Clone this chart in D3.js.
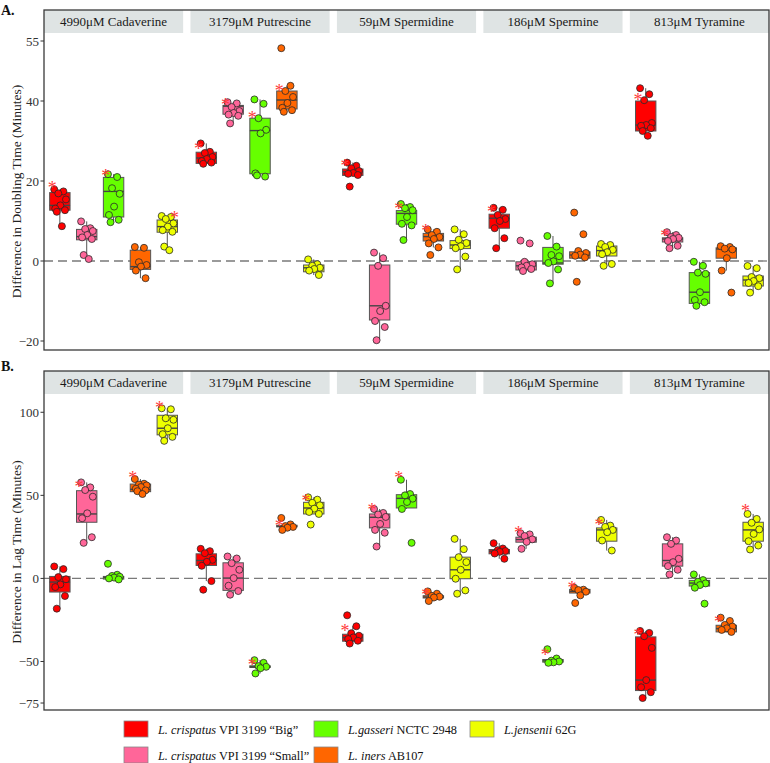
<!DOCTYPE html>
<html><head><meta charset="utf-8">
<script src="https://cdn.jsdelivr.net/npm/d3@7"></script>
<style>body{margin:0;background:#fff} svg{display:block}</style>
</head><body><svg id="c" width="770" height="763"></svg>
<script>
// ---------- categories ----------
const amines = ["4990μM Cadaverine","3179μM Putrescine","59μM Spermidine","186μM Spermine","813μM Tyramine"];
const strains = ["big","small","gasseri","iners","jensenii"];
const strainColors = ["#ff0000","#ff6699","#66ff00","#ff6600","#eeff00"];
const legendItal = ["L. crispatus","L. crispatus","L.gasseri","L. iners","L.jensenii"];
const legendRest = [" VPI 3199 “Big”"," VPI 3199 “Small”"," NCTC 2948"," AB107"," 62G"];
const dtTicks = [-20,0,20,40,55];
const lagTicks = [-75,-50,0,50,100];

// ---------- A: doubling time  (box = [lo, q1, median, q3, hi]) ----------
const dtBigBox   = [[8.7,12.7,13.9,17.1,17.9],[24.3,24.4,25.75,27.2,29.4],[21.3,21.4,22.3,23.0,24.6],[3.2,8.2,10.7,11.7,13.3],[31.3,32.5,34.0,40.0,43.2]];
const dtSmallBox = [[0.5,5.3,6.1,7.9,9.9],[34.4,36.7,38.7,38.9,39.7],[-19.8,-14.75,-11.2,-1.0,2.1],[-2.5,-2.25,-1.2,-0.2,0.3],[3.2,4.75,5.5,5.8,7.2]];
const dtGasBox   = [[9.7,11.0,17.4,20.9,21.7],[21.1,21.8,32.6,35.7,40.4],[5.25,9.2,11.9,12.6,14.25],[-5.6,-0.8,-0.5,3.4,6.25],[-11.2,-10.6,-7.8,-2.9,-0.2]];
const dtInersBox = [[-4.3,-2.1,-1.4,2.7,3.5],[37.3,38.0,40.25,42.5,43.8],[3.4,5.0,6.1,6.9,7.9],[0.7,0.7,1.5,2.3,2.5],[-2.4,0.7,3.0,3.3,3.7]];
const dtJenBox   = [[2.7,7.2,8.6,10.25,11.25],[-3.5,-2.7,-1.7,-1.0,0.4],[-2.1,3.1,4.0,5.1,7.9],[-1.2,1.25,2.6,3.75,4.25],[-7.9,-6.25,-4.75,-3.75,-1.25]];

const dtBigPts   = [[17.9,17.4,16.9,15.4,13.9,13.1,12.7,12.3,8.7],[29.4,27.3,27.0,26.0,25.5,25.0,24.6,24.3],[24.6,23.8,23.2,22.5,22.0,21.8,21.5,18.6],[13.3,12.8,11.5,10.5,10.0,8.2,5.7,3.2],[43.2,41.7,40.2,34.5,34.0,33.8,33.2,32.5,31.3]];
const dtSmallPts = [[9.9,8.2,8.0,7.5,6.5,5.9,5.5,1.5,0.5],[39.7,39.4,38.5,37.5,37.0,36.6,36.3,34.4],[2.1,0.7,-1.2,-11.2,-12.5,-15.0,-16.5,-19.8],[5.1,4.4,-0.2,-0.8,-1.2,-1.6,-2.0,-2.5],[7.2,6.5,6.0,5.8,5.5,5.0,3.8,3.2]];
const dtGasPts   = [[21.7,21.0,18.2,16.8,13.6,11.5,10.3,9.7],[40.4,39.3,35.7,32.8,31.9,21.9,21.1,21.4],[14.25,13.5,13.2,12.7,11.0,9.3,8.9,5.25],[6.25,3.6,1.5,1.2,-0.1,-0.5,-2.1,-5.6],[-0.2,-1.2,-2.9,-3.2,-7.8,-9.75,-10.3,-11.2]];
const dtInersPts = [[3.5,3.3,-0.3,-1.0,-1.4,-2.4,-4.3],[53.2,43.8,42.5,41.0,39.5,38.3,37.7,37.3],[7.9,7.3,6.5,6.0,5.5,4.4,3.4,1.5],[12.1,6.7,2.5,2.0,1.6,1.3,0.9,-5.2],[3.7,3.5,3.1,2.9,0.7,-2.4,-7.9]];
const dtJenPts   = [[11.25,11.0,10.5,9.4,8.6,7.7,7.3,3.6,2.7],[0.4,-0.8,-1.2,-1.7,-2.0,-2.4,-3.5],[7.9,6.7,5.3,4.5,3.7,3.2,1.1,-2.1],[4.25,4.0,3.5,2.8,2.2,1.7,-0.75,-1.2],[-1.25,-1.8,-4.0,-4.3,-5.0,-5.5,-6.3,-7.9]];

// significance star value (null = none); rows = strains, cols = amines
const dtStars = [[19,28.6,24.4,12.9,41],[null,39.75,null,null,6.9],[21.9,36.5,13.6,null,null],[null,43.25,8.2,null,null],[11.5,null,null,null,null]];
const dtStarRight = [[0,0,0,0,0],[0,0,0,0,0],[0,0,0,0,0],[0,0,0,0,0],[1,0,0,0,0]];

// ---------- B: lag time ----------
const lagBigBox   = [[-18.2,-8.2,-2.2,1.2,7.2],[-1.6,7.8,10.8,14.8,17.8],[-39.2,-37.8,-35.6,-33.6,-28.8],[11.8,14.8,16.4,17.4,21.2],[-72,-67.5,-61.2,-35.2,-31.6]];
const lagSmallBox = [[21.4,33.8,38.8,52.8,57.8],[-9.8,-7.2,0.2,9.4,13.2],[19.2,30.4,36.8,38.8,41.8],[17.8,21.8,23.4,24.8,27.2],[2.4,7.4,10.8,20.8,24.8]];
const lagGasBox   = [[-0.6,-0.4,0.6,1.2,2.2],[-57.2,-53.6,-53.2,-52.6,-49.2],[41.8,42.4,48.2,50.4,59.4],[-50.8,-50.4,-49.6,-48.8,-48.2],[-5.6,-4.6,-2.8,-1.2,2.4]];
const lagInersBox = [[50.8,52.2,53.6,56.8,59.8],[29.2,31.0,31.4,32.0,32.5],[-13.6,-11.8,-11.2,-10.4,-9.2],[-10.2,-8.8,-7.8,-6.6,-5.6],[-32.2,-32.2,-30.2,-28.2,-25.6]];
const lagJenBox   = [[82.8,86.4,90.4,98.2,102.4],[38.8,38.8,42.4,45.8,48.8],[-9.2,-0.2,5.2,12.8,23.8],[16.8,22.4,29.2,30.4,35.2],[17.4,22.4,29.2,33.8,38.8]];

const lagBigPts   = [[7.2,5.6,0.8,-0.5,-3.6,-5.2,-10.6,-18.2],[17.8,16.4,15.2,11.2,10.0,7.6,-1.6,-6.8],[-22.2,-28.8,-33.0,-34.5,-35.5,-36.5,-37.5,-39.2],[21.2,18.0,17.0,16.5,16.0,15.0,11.8],[-31.6,-32.8,-34.8,-41.8,-61.2,-65.5,-68.5,-72]];
const lagSmallPts = [[57.8,54.8,53.2,49.2,39.2,36.2,24.8,21.4],[13.2,12.0,9.2,5.2,0.2,-4.4,-7.6,-9.8],[41.8,39.4,38.5,37.0,32.8,29.2,27.5,19.2],[27.2,26.5,25.5,23.5,22.0,17.8],[24.8,22.8,20.8,11.8,9.8,7.4,5.2,2.4]];
const lagGasPts   = [[8.8,2.2,1.5,1.0,0.5,0.0,-0.6],[-49.2,-50.8,-52.8,-53.2,-54.0,-57.2],[59.4,50.8,50.0,48.0,46.0,41.8,21.4],[-42.6,-48.2,-49.5,-50.0,-50.5,-50.8],[2.4,-1.0,-2.0,-3.0,-4.0,-5.6,-15.2]];
const lagInersPts = [[59.8,57.0,56.5,56.0,55.0,54.0,53.0,52.5,50.8],[36.4,32.5,31.5,31.0,30.5,29.2],[-7.8,-9.2,-10.5,-11.0,-11.5,-13.6],[-5.6,-6.8,-7.0,-8.0,-10.2,-14.8],[-23.6,-25.6,-28.0,-29.0,-30.0,-31.0,-32.2]];
const lagJenPts   = [[102.4,101.8,96.4,95.5,90.4,86.8,85.2,82.8],[48.8,47.4,45.5,44.0,42.0,40.0,38.8,32.4],[23.8,17.6,12.8,9.8,5.2,-0.2,-7.2,-9.2],[35.2,31.8,31.0,29.2,27.8,22.8,16.8],[38.8,35.8,33.5,29.5,26.8,22.4,19.8,17.4]];

const lagStars = [[null,null,-30.2,null,-32.8],[56.4,null,42.8,28.8,null],[null,-50.8,61.8,-44.8,null],[61.8,33.2,-8.2,-4.2,-24.8],[103.8,48,null,33.8,41.8]];
const lagStarRight = [[0,0,0,0,0],[0,0,0,0,0],[0,0,0,0,0],[0,0,0,0,0],[0,0,0,0,0]];

// jitter pattern (fraction of half box width)
const jitter = [-0.55,0.35,-0.15,0.6,0.05,-0.45,0.5,-0.3,0.2,-0.6];

// ---------- drawing ----------
const svg = d3.select("#c");
const FONT = "'Liberation Serif','Times New Roman',serif";
const L = 44, R = 769;
const fx = d3.scaleBand().domain(amines).range([L, R]).paddingInner(0.05);
const sx = d3.scalePoint().domain(strains).range([0, fx.bandwidth()]).padding(0.59);
const bw = sx.step() * 0.76;

const panels = [
  {label:"A.", labelY:15, title:"Difference in Doubling Time (Minutes)", top:10, bottom:350, domain:[-22.25,57], ticks:dtTicks,
   boxes:[dtBigBox,dtSmallBox,dtGasBox,dtInersBox,dtJenBox], pts:[dtBigPts,dtSmallPts,dtGasPts,dtInersPts,dtJenPts], stars:dtStars, starRight:dtStarRight},
  {label:"B.", labelY:371, title:"Difference in Lag Time (Minutes)", top:371, bottom:710, domain:[-79.2,111], ticks:lagTicks,
   boxes:[lagBigBox,lagSmallBox,lagGasBox,lagInersBox,lagJenBox], pts:[lagBigPts,lagSmallPts,lagGasPts,lagInersPts,lagJenPts], stars:lagStars, starRight:lagStarRight}
];

const stripH = 23;
panels.forEach(p => {
  const g = svg.append("g");
  const plotTop = p.top + stripH;
  const y = d3.scaleLinear().domain(p.domain).range([p.bottom, plotTop]);

  // strips
  amines.forEach(a => {
    g.append("rect").attr("x", fx(a)).attr("y", p.top).attr("width", fx.bandwidth()).attr("height", stripH)
      .attr("fill", "#dfe4e4");
    g.append("text").attr("x", fx(a) + fx.bandwidth()/2).attr("y", p.top + stripH/2 + 4.5)
      .attr("text-anchor","middle").attr("font-family",FONT).attr("font-size",13).attr("fill","#1a1a1a").text(a);
  });

  // zero line
  g.append("line").attr("x1", L).attr("x2", R).attr("y1", y(0)).attr("y2", y(0))
    .attr("stroke","#7a7a7a").attr("stroke-width",1.3).attr("stroke-dasharray","9,5");

  // boxes
  strains.forEach((s, si) => {
    amines.forEach((a, ai) => {
      const b = p.boxes[si][ai];
      const cx = fx(a) + sx(s);
      const col = strainColors[si];
      g.append("line").attr("x1",cx).attr("x2",cx).attr("y1",y(b[0])).attr("y2",y(b[1])).attr("stroke","#555").attr("stroke-width",1);
      g.append("line").attr("x1",cx).attr("x2",cx).attr("y1",y(b[3])).attr("y2",y(b[4])).attr("stroke","#555").attr("stroke-width",1);
      g.append("rect").attr("x",cx-bw/2).attr("y",y(b[3])).attr("width",bw).attr("height",Math.max(1.5,y(b[1])-y(b[3])))
        .attr("fill",col).attr("stroke","#555").attr("stroke-width",1);
      g.append("line").attr("x1",cx-bw/2).attr("x2",cx+bw/2).attr("y1",y(b[2])).attr("y2",y(b[2])).attr("stroke","#444").attr("stroke-width",1.4);
    });
  });
  // points
  strains.forEach((s, si) => {
    amines.forEach((a, ai) => {
      const cx = fx(a) + sx(s);
      p.pts[si][ai].forEach((v, k) => {
        g.append("circle").attr("cx", cx + jitter[k % jitter.length]*bw/2).attr("cy", y(v)).attr("r",3.5)
          .attr("fill",strainColors[si]).attr("stroke","#2a2a2a").attr("stroke-width",0.8);
      });
    });
  });
  // stars
  strains.forEach((s, si) => {
    amines.forEach((a, ai) => {
      const v = p.stars[si][ai];
      if (v === null) return;
      const cx = fx(a) + sx(s);
      const xx = p.starRight[si][ai] ? cx + bw/2 - 3 : cx - bw/2 + 2.5;
      g.append("text").attr("x", xx).attr("y", y(v) + 8.5).attr("text-anchor","middle")
        .attr("font-family",FONT).attr("font-size",18).attr("fill","#ff3b3b").text("*");
    });
  });

  // frame
  g.append("rect").attr("x", L).attr("y", p.top).attr("width", R-L).attr("height", p.bottom-p.top)
    .attr("fill","none").attr("stroke","#3a3a3a").attr("stroke-width",1.3);

  // y axis ticks
  p.ticks.forEach(t => {
    g.append("line").attr("x1",L-3.5).attr("x2",L).attr("y1",y(t)).attr("y2",y(t)).attr("stroke","#333").attr("stroke-width",1);
    g.append("text").attr("x",L-5).attr("y",y(t)+4.5).attr("text-anchor","end")
      .attr("font-family",FONT).attr("font-size",13).attr("fill","#333").text(t < 0 ? "−" + Math.abs(t) : t);
  });

  // y title
  g.append("text").attr("transform",`translate(21,${(plotTop+p.bottom)/2}) rotate(-90)`).attr("text-anchor","middle")
    .attr("font-family",FONT).attr("font-size",13.5).attr("fill","#222").text(p.title);

  // panel label
  g.append("text").attr("x",1).attr("y",p.labelY).attr("font-family",FONT).attr("font-weight","bold")
    .attr("font-size",14).attr("fill","#111").text(p.label);
});

// ---------- legend ----------
const legCols = [124, 314, 470];
const legRows = [729, 755];
const legOrder = [[0,0],[1,0],[0,1],[1,1],[0,2]]; // strain index -> [row,col]
strains.forEach((s, i) => {
  const [r, c] = legOrder[i];
  const x = legCols[c], yy = legRows[r];
  svg.append("rect").attr("x",x).attr("y",yy-8).attr("width",24).attr("height",16)
    .attr("fill",strainColors[i]).attr("stroke","#888").attr("stroke-width",0.8);
  const t = svg.append("text").attr("x",x+34).attr("y",yy+4.5).attr("font-family",FONT).attr("font-size",12.3).attr("fill","#111");
  t.append("tspan").attr("font-style","italic").text(legendItal[i]);
  t.append("tspan").text(legendRest[i]);
});
</script></body></html>
